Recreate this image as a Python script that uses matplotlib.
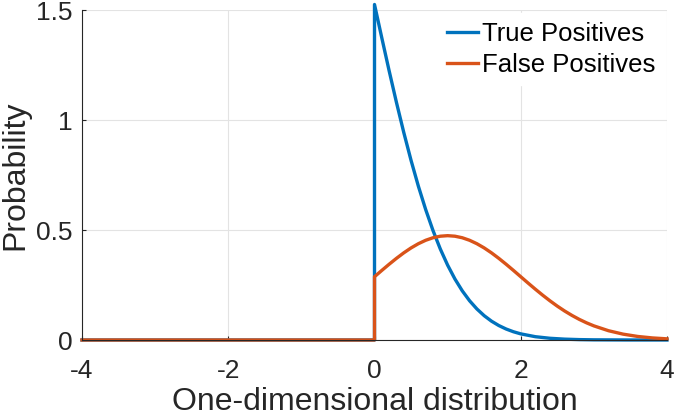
import matplotlib
matplotlib.use('Agg')
import matplotlib.pyplot as plt

plt.rcParams['font.family'] = ['Liberation Sans', 'DejaVu Sans']

# values (zero on the left half, jump at x=0)
xs_tp = [-4, 0, 0, 0.1, 0.2, 0.3, 0.4, 0.5, 0.6, 0.7, 0.8, 0.9, 1.0, 1.1, 1.2, 1.3, 1.4,
         1.5, 1.6, 1.7, 1.8, 1.9, 2.0, 2.2, 2.4, 2.6, 2.8, 3.0, 3.5, 4.0]
ys_tp = [0, 0, 1.5251, 1.3731, 1.2239, 1.0801, 0.9437, 0.8163, 0.6991, 0.5928, 0.4976,
         0.4136, 0.3403, 0.2772, 0.2236, 0.1785, 0.1412, 0.1105, 0.0856, 0.0657, 0.0499,
         0.0375, 0.0279, 0.0150, 0.0078, 0.0039, 0.0018, 0.0008, 0.0001, 0.0]

xs_fp = [-4, 0, 0, 0.1, 0.2, 0.3, 0.4, 0.5, 0.6, 0.7, 0.8, 0.9, 1.0, 1.1, 1.2, 1.3, 1.4,
         1.5, 1.6, 1.7, 1.8, 1.9, 2.0, 2.1, 2.2, 2.3, 2.4, 2.5, 2.6, 2.7, 2.8, 2.9, 3.0,
         3.2, 3.4, 3.6, 3.8, 4.0]
ys_fp = [0, 0, 0.2876, 0.3163, 0.3443, 0.3711, 0.3961, 0.4185, 0.4377, 0.4533, 0.4648,
         0.4718, 0.4742, 0.4718, 0.4648, 0.4533, 0.4377, 0.4185, 0.3961, 0.3711, 0.3443,
         0.3163, 0.2876, 0.2589, 0.2308, 0.2037, 0.1780, 0.1539, 0.1318, 0.1118, 0.0938,
         0.0780, 0.0642, 0.0422, 0.0266, 0.0161, 0.0094, 0.0053]

x_ticks = [-4, -2, 0, 2, 4]
y_ticks = [0, 0.5, 1, 1.5]
y_tick_labels = ['0', '0.5', '1', '1.5']

fig = plt.figure(figsize=(6.76, 4.18), dpi=100)
ax = fig.add_axes([82/676, 78/418, 585/676, 330/418])

ax.plot(xs_tp, ys_tp, c='#0072BD', lw=2.4, label='True Positives', clip_on=False)
ax.plot(xs_fp, ys_fp, c='#D95319', lw=2.4, label='False Positives', clip_on=False)

ax.set_xlim(-4, 4)
ax.set_ylim(0, 1.5)
ax.set_xticks(x_ticks)
ax.set_xticklabels([str(t) for t in x_ticks])
ax.set_yticks(y_ticks)
ax.set_yticklabels(y_tick_labels)
ax.grid(True, color='#e3e3e3', lw=0.8)
ax.set_axisbelow(True)

for s in ['top', 'right']:
    ax.spines[s].set_visible(False)
for s in ['left', 'bottom']:
    ax.spines[s].set_color('#262626')
    ax.spines[s].set_linewidth(0.8)
ax.tick_params(direction='in', length=3, width=0.8, colors='#262626', labelsize=19)
ax.tick_params(axis='x', pad=14)
ax.tick_params(axis='y', pad=7)

ax.set_xlabel('One-dimensional distribution', fontsize=23, color='#262626', labelpad=2.5)
ax.set_ylabel('Probability', fontsize=23, color='#262626', labelpad=4)

leg = ax.legend(loc='upper right', fontsize=18.5, frameon=True, fancybox=False,
                edgecolor='white', framealpha=1, handlelength=1.2, handletextpad=0.15,
                borderaxespad=0.1, borderpad=0.35, labelspacing=0.27)

fig.savefig('out.png', dpi=100)
